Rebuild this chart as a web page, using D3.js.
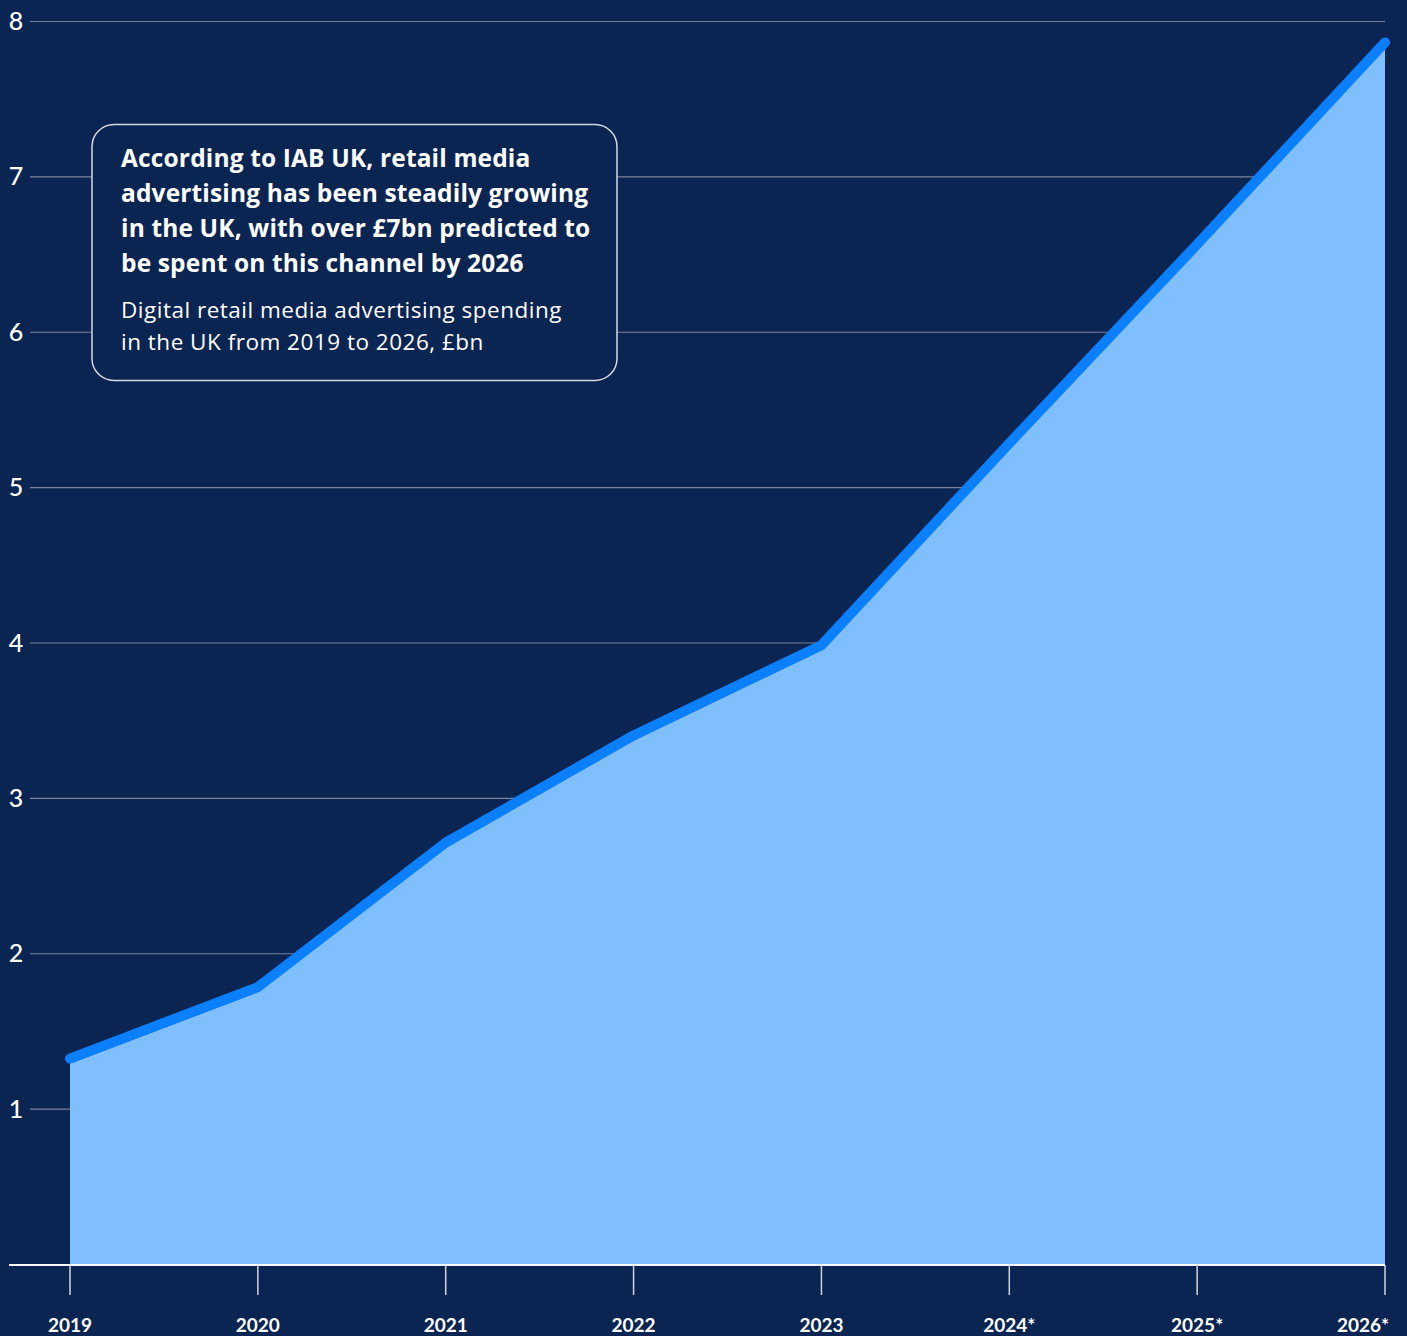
<!DOCTYPE html>
<html>
<head>
<meta charset="utf-8">
<script src="https://cdn.jsdelivr.net/npm/d3@7"></script>
<style>
  html, body { margin: 0; padding: 0; background: #0b2553; }
  svg { display: block; }
</style>
</head>
<body>
<div id="chart"></div>
<script>
// data
var years = ["2019", "2020", "2021", "2022", "2023", "2024*", "2025*", "2026*"];
var spend = [1.29, 1.75, 2.68, 3.37, 3.95, 5.25, 6.53, 7.83];
var yTicks = [1, 2, 3, 4, 5, 6, 7, 8];
var titleLines = [
    "According to IAB UK, retail media",
    "advertising has been steadily growing",
    "in the UK, with over £7bn predicted to",
    "be spent on this channel by 2026"
];
var subtitleLines = [
    "Digital retail media advertising spending",
    "in the UK from 2019 to 2026, £bn"
];

var width = 1407, height = 1336;
var bg = "#0b2553";

var x = d3.scalePoint()
    .domain(years)
    .range([70, 1385]);
var y = d3.scaleLinear()
    .domain([0, 8])
    .range([1264, 21]);

var svg = d3.select("#chart").append("svg")
    .attr("width", width)
    .attr("height", height);

svg.append("rect")
    .attr("width", width)
    .attr("height", height)
    .attr("fill", bg);

// grid
svg.append("g")
    .selectAll("line")
    .data(yTicks)
    .join("line")
    .attr("x1", 30)
    .attr("x2", 1385)
    .attr("y1", d => y(d) + 0.5)
    .attr("y2", d => y(d) + 0.5)
    .attr("stroke", "#7b8499")
    .attr("stroke-width", 1.2);

// y labels
svg.append("g")
    .selectAll("text")
    .data(yTicks)
    .join("text")
    .attr("x", 16)
    .attr("y", d => y(d))
    .attr("dy", "0.36em")
    .attr("text-anchor", "middle")
    .attr("fill", "#fff")
    .style("font-family", "Lato, sans-serif")
    .style("font-size", "25px")
    .style("font-weight", 500)
    .text(d => d);

// area
var area = d3.area()
    .x((d, i) => x(years[i]))
    .y0(y(0))
    .y1(d => y(d));

svg.append("path")
    .datum(spend)
    .attr("d", area)
    .attr("fill", "#80bfff");

// line sits on top of the area edge
var line = d3.line()
    .x((d, i) => x(years[i]))
    .y(d => y(d));

svg.append("path")
    .datum(spend)
    .attr("d", line)
    .attr("transform", "translate(0,-5)")
    .attr("fill", "none")
    .attr("stroke", "#0a80ff")
    .attr("stroke-width", 10)
    .attr("stroke-linecap", "round")
    .attr("stroke-linejoin", "round");

// x axis
var xAxis = svg.append("g");
xAxis.append("line")
    .attr("x1", 9)
    .attr("x2", 1385)
    .attr("y1", 1265)
    .attr("y2", 1265)
    .attr("stroke", "#fff")
    .attr("stroke-width", 2);

xAxis.selectAll(".tick")
    .data(years)
    .join("line")
    .attr("class", "tick")
    .attr("x1", d => x(d))
    .attr("x2", d => x(d))
    .attr("y1", 1265)
    .attr("y2", 1295)
    .attr("stroke", "#d0d4dc")
    .attr("stroke-width", 1.5);

xAxis.selectAll(".lab")
    .data(years)
    .join("text")
    .attr("class", "lab")
    .attr("x", (d, i) => x(d) + (i === years.length - 1 ? -22 : 0))
    .attr("y", 1332)
    .attr("text-anchor", "middle")
    .attr("fill", "#fff")
    .style("font-family", "Lato, sans-serif")
    .style("font-size", "19px")
    .style("font-weight", 700)
    .text(d => d);

// annotation box
var box = svg.append("g");
box.append("rect")
    .attr("x", 92)
    .attr("y", 124.5)
    .attr("width", 525)
    .attr("height", 256)
    .attr("rx", 22)
    .attr("fill", bg)
    .attr("stroke", "#d6d9e0")
    .attr("stroke-width", 1.5);

box.selectAll(".title")
    .data(titleLines)
    .join("text")
    .attr("class", "title")
    .attr("x", 121)
    .attr("y", (d, i) => 167 + i * 35)
    .attr("fill", "#fff")
    .style("font-family", "'Open Sans', sans-serif")
    .style("font-size", "24.5px")
    .style("font-weight", 700)
    .style("letter-spacing", "0.15px")
    .text(d => d);

box.selectAll(".sub")
    .data(subtitleLines)
    .join("text")
    .attr("class", "sub")
    .attr("x", 121)
    .attr("y", (d, i) => 318 + i * 32)
    .attr("fill", "#fff")
    .style("font-family", "'Open Sans', sans-serif")
    .style("font-size", "22.5px")
    .style("font-weight", 400)
    .style("letter-spacing", "0.5px")
    .text(d => d);
</script>
</body>
</html>
